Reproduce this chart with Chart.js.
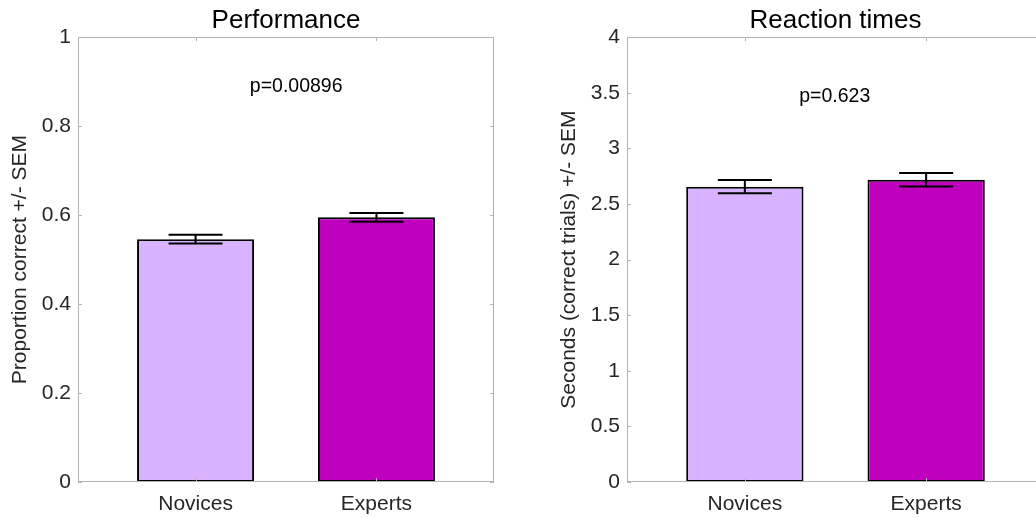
<!DOCTYPE html>
<html>
<head>
<meta charset="utf-8">
<script src="https://cdn.jsdelivr.net/npm/chart.js@4.4.0/dist/chart.umd.min.js"></script>
<style>
    html, body { margin: 0; padding: 0; background: #fff; overflow: hidden; width: 1036px; height: 518px; }
    canvas { position: absolute; top: 0; }
    #perfChart { left: 0; }
    #rtChart { left: 520px; }
</style>
</head>
<body>
<canvas id="perfChart" width="520" height="518"></canvas>
<canvas id="rtChart" width="540" height="518"></canvas>
<script>
// 데이터
const categories = ['Novices', 'Experts'];
const barColors = ['#d9b3ff', '#bf00bf'];

const perfMeans = [0.546, 0.595];
const perfSem = [0.010, 0.010];
const perfTicks = { min: 0, max: 1, step: 0.2 };

const rtMeans = [2.656, 2.718];
const rtSem = [0.059, 0.060];
const rtTicks = { min: 0, max: 4, step: 0.5 };

// p-value 텍스트 (데이터 좌표)
const pLabels = ['p=0.00896', 'p=0.623'];
const pLabelX = 1.3;
const pLabelY = [0.89, 3.47];

const xLimits = [0.35, 2.65];
const FONT = '"Liberation Sans", Arial, sans-serif';

// 에러바, 박스, 안쪽 눈금, p 텍스트
const matlabAxes = {
    id: 'matlabAxes',
    afterDatasetsDraw(chart, args, opts) {
        const { ctx, chartArea: a, scales: { x, y } } = chart;
        ctx.save();

        // error bars
        ctx.strokeStyle = '#000';
        ctx.lineWidth = 2;
        opts.means.forEach((m, i) => {
            const px = x.getPixelForValue(i + 1);
            const top = y.getPixelForValue(m + opts.sem[i]);
            const bot = y.getPixelForValue(m - opts.sem[i]);
            ctx.beginPath();
            ctx.moveTo(px, top); ctx.lineTo(px, bot);
            ctx.moveTo(px - 27, top); ctx.lineTo(px + 27, top);
            ctx.moveTo(px - 27, bot); ctx.lineTo(px + 27, bot);
            ctx.stroke();
        });

        // axes box
        ctx.strokeStyle = '#b4b4b4';
        ctx.lineWidth = 1;
        ctx.strokeRect(Math.round(a.left) + 0.5, Math.round(a.top) + 0.5,
            Math.round(a.width) - 1, Math.round(a.height) - 1);

        // inner ticks
        ctx.beginPath();
        y.ticks.forEach(t => {
            const py = Math.round(y.getPixelForValue(t.value)) + 0.5;
            ctx.moveTo(a.left, py); ctx.lineTo(a.left + 4, py);
            ctx.moveTo(a.right, py); ctx.lineTo(a.right - 4, py);
        });
        x.ticks.forEach(t => {
            const px = Math.round(x.getPixelForValue(t.value)) + 0.5;
            ctx.moveTo(px, a.top); ctx.lineTo(px, a.top + 4);
            ctx.moveTo(px, a.bottom); ctx.lineTo(px, a.bottom - 4);
        });
        ctx.stroke();

        // p-value
        ctx.fillStyle = '#000';
        ctx.font = '19.5px ' + FONT;
        ctx.textAlign = 'left';
        ctx.textBaseline = 'middle';
        ctx.fillText(opts.pText, x.getPixelForValue(opts.pX), y.getPixelForValue(opts.pY));

        ctx.restore();
    }
};

function makeChart(canvasId, cfg) {
    const ctx = document.getElementById(canvasId).getContext('2d');
    return new Chart(ctx, {
        type: 'bar',
        data: {
            datasets: [{
                data: cfg.means.map((v, i) => ({ x: i + 1, y: v })),
                backgroundColor: barColors,
                borderColor: '#000',
                borderWidth: 2,
                borderSkipped: false,
                barPercentage: 0.647,
                categoryPercentage: 1
            }]
        },
        options: {
            responsive: false,
            animation: false,
            layout: { padding: { left: 0, right: cfg.padRight, top: 0, bottom: 0 } },
            scales: {
                x: {
                    type: 'linear',
                    offset: false,
                    min: xLimits[0],
                    max: xLimits[1],
                    grid: { display: false, drawTicks: false, offset: false },
                    border: { display: false },
                    afterBuildTicks: (scale) => {
                        scale.ticks = categories.map((c, i) => ({ value: i + 1 }));
                    },
                    afterFit: (scale) => { scale.height = 36; },
                    ticks: {
                        padding: 10,
                        color: '#262626',
                        font: { size: 21, family: FONT },
                        maxRotation: 0,
                        autoSkip: false,
                        callback: (value) => categories[value - 1]
                    }
                },
                y: {
                    min: cfg.ticks.min,
                    max: cfg.ticks.max,
                    grid: { display: false, drawTicks: false },
                    border: { display: false },
                    afterFit: (scale) => { scale.width = cfg.yWidth; },
                    ticks: {
                        stepSize: cfg.ticks.step,
                        padding: 7,
                        color: '#262626',
                        font: { size: 21, family: FONT },
                        callback: (value) => String(Number(value.toFixed(2)))
                    },
                    title: {
                        display: true,
                        text: cfg.yTitle,
                        color: '#262626',
                        font: { size: 21, family: FONT },
                        padding: { top: cfg.yTitlePad, bottom: 0 }
                    }
                }
            },
            plugins: {
                legend: { display: false },
                tooltip: { enabled: false },
                title: {
                    display: true,
                    text: cfg.title,
                    fullSize: false,
                    color: '#000',
                    font: { size: 26, family: FONT, weight: 'normal' },
                    padding: { top: 5, bottom: 1 }
                },
                matlabAxes: {
                    means: cfg.means,
                    sem: cfg.sem,
                    pText: cfg.pText,
                    pX: pLabelX,
                    pY: cfg.pY
                }
            }
        },
        plugins: [matlabAxes]
    });
}

makeChart('perfChart', {
    title: 'Performance',
    yTitle: 'Proportion correct +/- SEM',
    means: perfMeans,
    sem: perfSem,
    ticks: perfTicks,
    pText: pLabels[0],
    pY: pLabelY[0],
    yWidth: 78,
    yTitlePad: 8,
    padRight: 26
});

makeChart('rtChart', {
    title: 'Reaction times',
    yTitle: 'Seconds (correct trials) +/- SEM',
    means: rtMeans,
    sem: rtSem,
    ticks: rtTicks,
    pText: pLabels[1],
    pY: pLabelY[1],
    yWidth: 107,
    yTitlePad: 37,
    padRight: 16
});
</script>
</body>
</html>
